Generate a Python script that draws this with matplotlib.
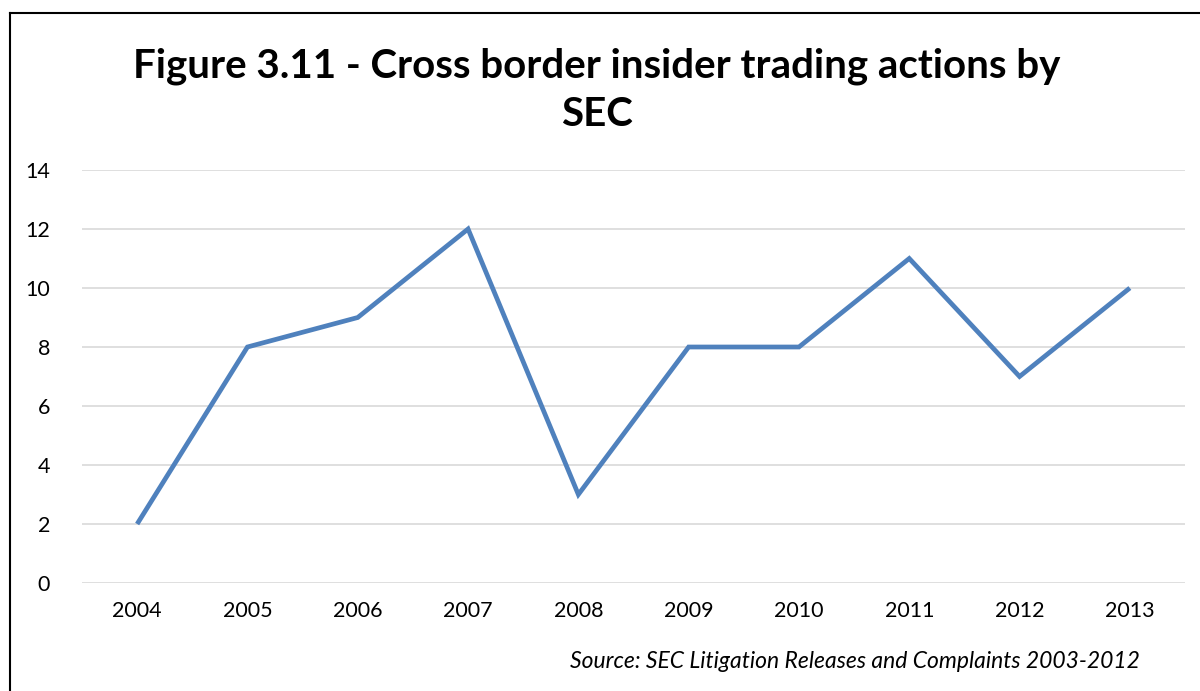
import matplotlib
matplotlib.use("Agg")
import matplotlib.pyplot as plt
from matplotlib.lines import Line2D

years = ["2004", "2005", "2006", "2007", "2008", "2009", "2010", "2011", "2012", "2013"]
actions = [2, 8, 9, 12, 3, 8, 8, 11, 7, 10]
yticks = [0, 2, 4, 6, 8, 10, 12, 14]

plt.rcParams['font.family'] = ['Lato', 'DejaVu Sans']

W, H = 1200, 691
fig = plt.figure(figsize=(W / 100, H / 100), dpi=100)
ax = fig.add_axes([82 / W, 1 - 583 / H, (1185 - 82) / W, (583 - 170) / H])

x = list(range(len(years)))
ax.plot(x, actions, color='#4F81BD', linewidth=3.4, solid_joinstyle='miter', solid_capstyle='butt', zorder=3)

ax.set_xlim(-0.5, len(years) - 0.5)
ax.set_ylim(0, 14)
ax.set_yticks(yticks)
ax.set_yticklabels([str(v) for v in yticks])
ax.set_xticks(x)
ax.set_xticklabels(years)
ax.tick_params(axis='both', length=0, labelsize=15.5, colors='black')
ax.tick_params(axis='y', pad=23)
ax.tick_params(axis='x', pad=13)
ax.grid(axis='y', color='#D9D9D9', linewidth=1.2)
ax.set_axisbelow(True)
for s in ax.spines.values():
    s.set_visible(False)

fig.text(597 / W, 1 - 66 / H, "Figure 3.11 - Cross border insider trading actions by",
         ha='center', va='center', fontsize=29, fontweight='bold')
fig.text(597 / W, 1 - 115 / H, "SEC", ha='center', va='center', fontsize=29, fontweight='bold')
fig.text(1140 / W, 1 - 662 / H, "Source: SEC Litigation Releases and Complaints 2003-2012",
         ha='right', va='center', fontsize=16.5, fontstyle='italic')

fig.add_artist(Line2D([10 / W, 10 / W], [0, 1 - 13 / H], color='black', linewidth=1.5, transform=fig.transFigure))
fig.add_artist(Line2D([10 / W, 1], [1 - 13 / H, 1 - 13 / H], color='black', linewidth=1.5, transform=fig.transFigure))

fig.savefig("out.png", dpi=100)
